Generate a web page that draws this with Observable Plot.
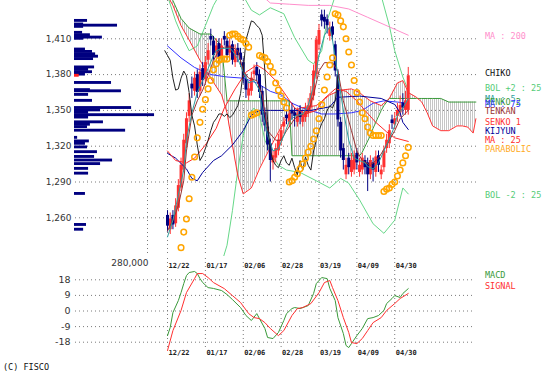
<!DOCTYPE html>
<html>
<head>
<meta charset="utf-8">
<script src="https://cdn.jsdelivr.net/npm/d3@7"></script>
<script src="https://cdn.jsdelivr.net/npm/@observablehq/plot@0.6"></script>
<style>
  html, body { margin: 0; padding: 0; background: #fff; }
  #chart { position: relative; width: 560px; height: 376px; overflow: hidden; background: #fff; }
  #chart > svg { position: absolute; left: 0; margin: 0; }
  .lab { position: absolute; font: 8.5px "DejaVu Sans Mono", monospace; white-space: nowrap; line-height: 10px; margin-top: -5px; }
</style>
</head>
<body>
<svg width="0" height="0" style="position:absolute">
  <defs>
    <pattern id="kumo" patternUnits="userSpaceOnUse" width="2" height="2">
      <rect x="0" y="0" width="1" height="2" fill="#c6c6c6"></rect>
    </pattern>
  </defs>
</svg>
<div id="chart"></div>
<script>
// ---------------- data ----------------
const dateTickIdx = [0, 14, 28, 42, 56, 70, 84];
const dateTickLabels = ["12/22", "01/17", "02/06", "02/28", "03/19", "04/09", "04/30"];
const priceTicks = [1260, 1290, 1320, 1350, 1380, 1410];
const macdTicks = [-18, -9, 0, 9, 18];
const volTick = 280000;

const open = [1262,1250,1262,1255,1268,1285,1300,1322,1345,1372,
  1366,1380,1366,1385,1376,1392,1412,1408,1398,1406,
  1395,1412,1408,1398,1405,1390,1402,1398,1390,1376,
  1362,1366,1380,1386,1380,1366,1348,1336,1322,1306,
  1310,1316,1324,1336,1346,1340,1350,1348,1340,1350,
  1340,1344,1348,1352,1362,1380,1405,1430,1428,1426,
  1412,1420,1405,1380,1340,1318,1296,1310,1298,1300,
  1314,1298,1300,1308,1306,1296,1306,1298,1312,1296,
  1302,1318,1322,1342,1338,1345,1348,1356,1350,1350];
const high = [1266,1264,1266,1276,1292,1310,1330,1348,1364,1378,
  1382,1384,1388,1390,1395,1406,1418,1412,1410,1410,
  1410,1416,1412,1410,1408,1405,1406,1402,1394,1380,
  1374,1382,1388,1390,1384,1370,1352,1340,1326,1316,
  1322,1330,1338,1344,1350,1352,1356,1352,1352,1354,
  1350,1356,1360,1370,1388,1412,1422,1434,1434,1430,
  1424,1424,1408,1384,1344,1322,1310,1314,1314,1316,
  1318,1310,1314,1312,1310,1312,1310,1316,1316,1304,
  1320,1330,1338,1346,1348,1356,1362,1364,1366,1386];
const low = [1248,1246,1250,1252,1265,1282,1298,1318,1340,1360,
  1362,1360,1362,1370,1372,1388,1404,1392,1394,1388,
  1390,1404,1392,1394,1388,1386,1390,1386,1372,1360,
  1358,1362,1376,1374,1360,1340,1332,1316,1290,1300,
  1306,1312,1320,1330,1338,1336,1342,1336,1336,1338,
  1336,1340,1344,1348,1358,1376,1400,1420,1418,1414,
  1408,1408,1378,1336,1310,1300,1292,1296,1294,1296,
  1300,1294,1296,1296,1282,1292,1290,1294,1298,1292,
  1298,1314,1318,1334,1334,1340,1344,1346,1346,1346];
const close = [1253,1259,1254,1270,1287,1304,1325,1343,1358,1368,
  1377,1365,1382,1375,1390,1400,1409,1396,1404,1394,
  1404,1409,1396,1404,1392,1400,1396,1392,1377,1367,
  1368,1377,1383,1379,1365,1346,1337,1321,1308,1312,
  1318,1325,1333,1340,1343,1347,1347,1345,1347,1344,
  1346,1350,1354,1364,1383,1409,1417,1425,1424,1421,
  1419,1413,1383,1342,1316,1308,1304,1302,1308,1312,
  1306,1304,1310,1302,1296,1308,1300,1311,1304,1300,
  1316,1325,1333,1339,1343,1350,1354,1352,1358,1379];

// indicator readings: [bar index, value]
const ma5 = [[0,1244],[2,1258],[4,1279],[6,1300],[7,1325],[9,1348],[11,1365],[13,1375],[15,1385],[17,1396],[18,1400],[20,1402],[23,1402],[24,1400],[26,1393],[28,1382],[30,1373],[32,1375],[34,1367],[35,1350],[37,1329],[39,1316],[41,1318],[43,1329],[45,1341],[47,1345],[48,1346],[50,1347],[52,1354],[54,1371],[56,1396],[58,1413],[60,1420],[61,1409],[63,1379],[65,1350],[67,1325],[69,1310],[71,1308],[73,1306],[74,1303],[76,1301],[78,1306],[80,1316],[82,1326],[84,1337],[85,1346],[87,1352],[89,1360]];
const ma25 = [[0,1316],[3,1308],[7,1306],[10,1310],[14,1321],[18,1335],[21,1352],[25,1368],[29,1382],[33,1388],[36,1384],[40,1375],[44,1362],[47,1352],[51,1347],[55,1350],[58,1360],[62,1368],[66,1366],[70,1358],[73,1350],[77,1340],[81,1332],[84,1327],[89,1324]];
const ma75 = [[0,1404],[5,1394],[10,1386],[16,1380],[22,1378],[28,1377],[33,1373],[38,1366],[42,1363],[46,1356],[50,1352],[57,1347],[62,1347],[68,1348],[72,1350],[76,1356],[80,1358],[85,1357],[89,1356]];
const ma200 = [[36,1444],[38,1440],[45,1439],[52,1438],[60,1438],[67,1435],[74,1428],[82,1420],[89,1413]];
const bolUp = [[0,1446],[3,1425],[6,1409],[8,1400],[11,1404],[14,1421],[17,1438],[20,1450],[27,1450],[31,1434],[34,1430],[38,1436],[43,1431],[47,1411],[52,1392],[54,1389],[57,1400],[59,1425],[62,1446],[68,1455],[75,1455],[79,1446],[82,1421],[84,1400],[87,1378],[89,1367]];
const bolDn = [[18,1205],[20,1222],[22,1237],[24,1266],[26,1300],[28,1329],[30,1346],[32,1352],[34,1346],[36,1325],[38,1315],[41,1304],[44,1300],[49,1298],[55,1291],[60,1285],[64,1293],[67,1289],[71,1275],[76,1255],[80,1247],[84,1258],[87,1285],[89,1280]];
const tenkan = [[0,1249],[2,1258],[4,1270],[6,1291],[7,1316],[9,1346],[11,1358],[13,1367],[15,1379],[17,1392],[19,1400],[21,1403],[24,1403],[26,1400],[28,1383],[30,1377],[33,1375],[35,1363],[37,1333],[40,1325],[42,1325],[44,1333],[47,1343],[49,1346],[52,1348],[54,1363],[56,1383],[58,1390],[61,1390],[63,1383],[65,1358],[68,1333],[70,1316],[72,1308],[75,1304],[78,1310],[81,1321],[84,1333],[86,1343],[89,1350]];
const kijun = [[0,1314],[3,1310],[7,1301],[9,1293],[11,1291],[13,1298],[17,1308],[20,1312],[24,1321],[28,1333],[31,1346],[34,1350],[38,1350],[46,1350],[53,1350],[60,1353],[63,1361],[71,1362],[79,1360],[84,1355],[86,1348],[87,1340],[89,1334]];

// ichimoku cloud (senkou spans, shifted forward)
const kumoIdx = [0,2,5,8,12,16,20,22,24,26,28,31,34,38,42,45,46,49,55,60,64,68,71,72,75,76,79,80,82,85,87,89,92,94,96,98,101,104,107,109,111,113,114];
const senkou1 = [1446,1438,1421,1409,1392,1377,1363,1348,1321,1295,1280,1285,1301,1319,1336,1347,1348,1352,1354,1363,1367,1368,1365,1363,1358,1357,1354,1356,1360,1373,1375,1365,1361,1357,1348,1337,1333,1333,1337,1337,1336,1331,1343];
const senkou2 = [1449,1442,1427,1419,1414,1414,1404,1358,1358,1358,1358,1358,1358,1358,1358,1358,1312,1312,1312,1312,1312,1312,1312,1315,1329,1335,1350,1354,1360,1360,1360,1360,1360,1360,1360,1360,1360,1357,1357,1357,1357,1357,1357];

// parabolic SAR, one value per bar from sarStart
const sarStart = 5;
const sar = [1235,1248,1259,1276,1294,1311,1327,1340,1351,1359,1368,1375,1384,1389,1392,1393,1393,1393,
  1413,1414,1414,1412,1410,1409,1406,1403,
  1346,1347,1348,
  1396,1395,1394,1391,1387,1382,1373,1367,1362,1357,1352,
  1290,1291,1294,1297,1301,1305,1310,1315,1320,1326,1333,1343,1355,1367,1378,1388,1394,
  1431,1430,1425,1420,1410,1399,1388,1375,1365,1357,1348,1343,1336,1331,1329,1329,1329,1329,
  1282,1284,1285,1288,1290,1295,1300,1306,1312,1319];

// volume by price
const vpPrice = [1425,1422,1421,1420,1415,1413,1411,1410,1401,1399,1397,1395,1393,1386,1384,1382,1380,1373,1367,1366,1363,1358,1352,1350,1348,1346,1344,1340,1338,1336,1333,1327,1324,1322,1319,1315,1311,1308,1305,1301,1297,1280,1254,1250];
const vpVol = [50000,35000,165000,35000,31000,61000,107000,35000,42000,69000,81000,92000,73000,77000,54000,69000,42000,142000,61000,180000,54000,69000,219000,100000,54000,307000,54000,111000,61000,50000,196000,12000,57000,42000,50000,88000,77000,146000,100000,54000,54000,42000,46000,35000];

// MACD panel
const macd = [[0,-14.2],[1,-9.5],[2,-0.9],[4,6.0],[5,10.6],[6,15.8],[7,20.4],[8,22.2],[10,22.8],[11,21.6],[12,18.7],[13,16.4],[15,13.5],[17,13.0],[20,11.8],[22,9.5],[24,6.6],[27,2.0],[29,-2.6],[31,-5.5],[33,-1.5],[34,-4.4],[36,-10.1],[37,-15.3],[39,-15.9],[41,-12.4],[43,-5.5],[44,-1.5],[46,1.4],[47,2.0],[49,1.4],[52,3.1],[54,10.1],[55,15.8],[57,19.3],[59,18.7],[60,13.0],[62,6.0],[63,-3.8],[65,-13.0],[66,-19.9],[67,-21.1],[68,-18.8],[70,-14.2],[72,-10.1],[74,-4.4],[76,-3.8],[78,-2.6],[80,0.3],[81,4.3],[83,7.2],[84,8.9],[86,7.8],[87,10.1],[89,12.9]];
const signal = [[0,-22.8],[2,-11.3],[5,0.3],[7,10.6],[10,18.7],[11,21.6],[13,21.6],[15,19.3],[17,16.4],[21,12.9],[24,8.9],[27,4.9],[30,-1.5],[32,-3.8],[34,-4.4],[36,-6.7],[38,-10.1],[41,-14.2],[43,-11.3],[46,-2.6],[48,1.4],[50,2.0],[53,4.3],[56,10.6],[58,16.4],[60,17.6],[61,13.5],[63,6.0],[65,-3.8],[67,-12.4],[68,-18.2],[70,-18.8],[72,-15.9],[74,-11.3],[76,-6.7],[79,-3.8],[81,0.3],[84,4.3],[86,7.2],[89,10.1]];

// ---------------- tables ----------------
const bars = close.map((c, i) => ({i, o: open[i], h: high[i], l: low[i], c}));
const upBars = bars.filter(b => b.c >= b.o);
const dnBars = bars.filter(b => b.c < b.o);
const pts = arr => arr.map(([i, v]) => ({i, v}));
const chikoShift = 26;
const chiko = close.map((c, i) => ({i: i - chikoShift, v: c})).filter(d => d.i >= -1);
const kumo = kumoIdx.map((i, k) => ({i, s1: senkou1[k], s2: senkou2[k]}));
const sarPts = sar.map((v, k) => ({i: sarStart + k, v}));
const vp = vpPrice.map((p, k) => ({p, v: vpVol[k]}));

// ---------------- layout ----------------
const X_DOMAIN = [-7.4, 114.6], X_RANGE = [147, 477];
const Y_DOMAIN = [1260, 1410], Y_RANGE = [217.3, 38.3];
const grid = {stroke: "#7a7a7a", strokeOpacity: 1, strokeDasharray: "1,3"};
const RED = "#ff3030", NAVY = "#000080";
const ln = (arr, stroke) => Plot.line(pts(arr), {x: "i", y: "v", stroke, strokeWidth: 1, clip: true});

const chart = document.getElementById("chart");

const main = Plot.plot({
  width: 560, height: 258,
  marginLeft: 75, marginRight: 83, marginTop: 0, marginBottom: 2,
  x: {domain: X_DOMAIN, range: X_RANGE, axis: null},
  y: {domain: Y_DOMAIN, range: Y_RANGE, axis: null},
  style: {background: "transparent", fontFamily: "DejaVu Sans", fontSize: "9px", overflow: "visible"},
  marks: [
    Plot.gridY(priceTicks, grid),
    Plot.gridX(dateTickIdx, grid),
    Plot.ruleX([X_DOMAIN[0]], grid),
    Plot.axisY(priceTicks, {tickSize: 0, tickPadding: 4, label: null, tickFormat: d3.format(","), fill: "#333", fontSize: 9}),
    Plot.areaY(kumo, {x: "i", y1: "s1", y2: "s2", fill: "url(#kumo)", clip: true}),
    ln(bolUp, "#66d888"),
    ln(bolDn, "#66d888"),
    ln(ma200, "#ff8fcc"),
    ln(ma75, "#3333ff"),
    Plot.line(kumo, {x: "i", y: "s2", stroke: "#3a9a3a", strokeWidth: 1, clip: true}),
    Plot.line(kumo, {x: "i", y: "s1", stroke: "#ff3333", strokeWidth: 1, clip: true}),
    Plot.ruleX(upBars, {x: "i", y1: "l", y2: "h", stroke: RED, strokeWidth: 1, clip: true}),
    Plot.ruleX(dnBars, {x: "i", y1: "l", y2: "h", stroke: NAVY, strokeWidth: 1, clip: true}),
    Plot.ruleX(upBars, {x: "i", y1: "o", y2: "c", stroke: RED, strokeWidth: 3, clip: true}),
    Plot.ruleX(dnBars, {x: "i", y1: "o", y2: "c", stroke: NAVY, strokeWidth: 3, clip: true}),
    ln(kijun, "#000099"),
    ln(tenkan, "#993333"),
    ln(ma25, "#ff2a2a"),
    ln(ma5, "#2f9f9f"),
    Plot.line(chiko, {x: "i", y: "v", stroke: "#222", strokeWidth: 1, clip: true}),
    Plot.dot(sarPts, {x: "i", y: "v", r: 2.8, stroke: "#ffa500", strokeWidth: 1.5, fill: "none", clip: true})
  ]
});
main.style.top = "0px";
chart.appendChild(main);

const hist = Plot.plot({
  width: 560, height: 270, margin: 0,
  x: {domain: [0, volTick], range: [74, 147], axis: null},
  y: {domain: Y_DOMAIN, range: Y_RANGE, axis: null},
  style: {background: "transparent", overflow: "visible"},
  marks: [
    Plot.rect(vp, {x1: 0, x2: "v", y1: d => d.p - 1.2, y2: d => d.p + 1.2, fill: NAVY}),
    Plot.rect([close[close.length - 1]], {x1: 0, x2: 18000, y1: d => d - 1.2, y2: d => d + 1.2, fill: "#ff2020"}),
    Plot.text([volTick], {x: d => d, frameAnchor: "bottom", dy: -5, dx: 1, textAnchor: "end",
      text: d => d3.format(",")(d), fontSize: 9, fill: "#333", fontFamily: "DejaVu Sans"})
  ]
});
hist.style.top = "0px";
chart.appendChild(hist);

const macdPlot = Plot.plot({
  width: 560, height: 118,
  marginLeft: 75, marginRight: 85, marginTop: 0, marginBottom: 26,
  x: {domain: X_DOMAIN, range: X_RANGE, axis: null},
  y: {domain: [-18, 18], range: [83.7, 21.3], axis: null},
  style: {background: "transparent", fontFamily: "DejaVu Sans", fontSize: "9px", overflow: "visible"},
  marks: [
    Plot.gridY(macdTicks, grid),
    Plot.gridX(dateTickIdx, grid),
    Plot.axisY(macdTicks, {tickSize: 0, tickPadding: 5, label: null, tickFormat: d => String(d), fill: "#333", fontSize: 9.5}),
    Plot.line(pts(macd), {x: "i", y: "v", stroke: "#3a9a3a", strokeWidth: 1}),
    Plot.line(pts(signal), {x: "i", y: "v", stroke: "#ff3030", strokeWidth: 1}),
    Plot.text(dateTickIdx, {x: d => d, text: (d, k) => dateTickLabels[k], frameAnchor: "top", dy: 5, dx: 1,
      textAnchor: "start", fontSize: 7, fontWeight: "bold", fontFamily: "DejaVu Sans Mono", fill: "#222"}),
    Plot.text(dateTickIdx, {x: d => d, text: (d, k) => dateTickLabels[k], frameAnchor: "bottom", dy: 4, dx: 1,
      textAnchor: "start", fontSize: 7, fontWeight: "bold", fontFamily: "DejaVu Sans Mono", fill: "#222"})
  ]
});
macdPlot.style.top = "258px";
chart.appendChild(macdPlot);

// ---------------- legend labels ----------------
const legendItems = [
  ["MA : 200", "#ff8fcc", 36],
  ["CHIKO", "#111", 72.5],
  ["BOL +2 : 25", "#55cc77", 87.5],
  ["MA : 5", "#2f9f9f", 98.5],
  ["SENKO 2", "#3a9a3a", 102],
  ["MA : 75", "#3333ff", 103.5],
  ["TENKAN", "#993333", 110.5],
  ["SENKO 1", "#ff3333", 121.5],
  ["KIJYUN", "#000099", 131],
  ["MA : 25", "#ff2a2a", 140],
  ["PARABOLIC", "#ffaa22", 149],
  ["BOL -2 : 25", "#55cc77", 195],
  ["MACD", "#3a9a3a", 275],
  ["SIGNAL", "#ff3030", 286]
];
for (const [t, c, y] of legendItems) {
  const el = document.createElement("div");
  el.className = "lab";
  el.textContent = t;
  el.style.color = c;
  el.style.left = "485px";
  el.style.top = y + "px";
  chart.appendChild(el);
}
const cr = document.createElement("div");
cr.className = "lab";
cr.textContent = "(C) FISCO";
cr.style.color = "#111";
cr.style.left = "3px";
cr.style.top = "367px";
chart.appendChild(cr);
</script>
</body>
</html>
